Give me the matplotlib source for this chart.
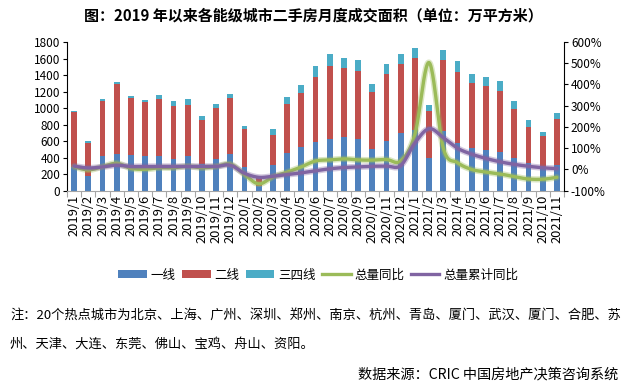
import matplotlib
matplotlib.use("Agg")
import matplotlib.pyplot as plt
import numpy as np
from matplotlib.lines import Line2D
from matplotlib.patches import Patch
from matplotlib.ticker import FuncFormatter, MultipleLocator

plt.rcParams["font.family"] = ["Noto Sans CJK SC", "DejaVu Sans"]

months = [f"{y}/{m}" for y in (2019, 2020, 2021) for m in range(1, 13)][:35]

tier1 = [290, 181, 423, 447, 431, 423, 423, 383, 423, 326, 383, 447, 286, 60, 310, 455, 528, 592,
         624, 648, 624, 503, 600, 697, 737, 399, 721, 576, 519, 495, 471, 399, 330, 290, 310]
tier2 = [664, 395, 660, 846, 692, 652, 684, 644, 612, 532, 620, 676, 459, 89, 362, 596, 652, 781,
         886, 838, 822, 693, 813, 837, 870, 563, 862, 862, 782, 774, 741, 588, 439, 374, 556]
tier3 = [12, 24, 24, 20, 25, 24, 49, 60, 72, 48, 48, 49, 40, 16, 73, 81, 97, 137,
         145, 121, 137, 97, 121, 121, 117, 73, 120, 129, 113, 104, 121, 96, 89, 49, 72]
yoy = [13, -2, 13, 29, 5, 1, 8, 8, 15, 8, 14, 25, -24, -68, -35, -13, 12, 40,
       45, 50, 45, 44, 47, 40, 165, 503, 100, 32, 0, -12, -21, -34, -45, -46, -37]
cum_yoy = [16, 7, 12, 20, 14, 14, 14, 14, 14, 14, 14, 20, -18, -37, -32, -24, -16, -6,
           3, 9, 12, 15, 16, 18, 125, 192, 150, 100, 72, 52, 36, 24, 15, 8, 4]

c_blue, c_red, c_cyan = "#4F81BD", "#C0504D", "#4BACC6"
c_green, c_purple = "#9BBB59", "#8064A2"


def smooth(y, n=24):
    """Catmull-Rom curve through the points, like Excel's smoothed line."""
    y = np.asarray(y, dtype=float)
    x = np.arange(len(y), dtype=float)
    px = np.concatenate([[x[0]], x, [x[-1]]])
    py = np.concatenate([[y[0]], y, [y[-1]]])
    xs, ys = [], []
    t = np.linspace(0, 1, n, endpoint=False)
    for i in range(1, len(px) - 2):
        for p, out in ((px, xs), (py, ys)):
            p0, p1, p2, p3 = p[i - 1], p[i], p[i + 1], p[i + 2]
            out.extend(0.5 * ((2 * p1) + (-p0 + p2) * t + (2 * p0 - 5 * p1 + 4 * p2 - p3) * t ** 2
                              + (-p0 + 3 * p1 - 3 * p2 + p3) * t ** 3))
    xs.append(x[-1])
    ys.append(y[-1])
    return np.array(xs), np.array(ys)


fig = plt.figure(figsize=(6.26, 3.9), dpi=100)
ax = fig.add_axes([67 / 626, 1 - 190.7 / 390, (564 - 67) / 626, (190.7 - 42) / 390])
x = np.arange(len(months))
w = 0.42
b2 = np.array(tier1)
b3 = b2 + np.array(tier2)
ax.bar(x, tier1, w, color=c_blue, zorder=2)
ax.bar(x, tier2, w, bottom=b2, color=c_red, zorder=2)
ax.bar(x, tier3, w, bottom=b3, color=c_cyan, zorder=2)

ax.set_xlim(-0.5, len(months) - 0.5)
ax.set_ylim(0, 1800)
ax.yaxis.set_major_locator(MultipleLocator(200))
ax.set_xticks(x)
ax.set_xticklabels(months, rotation=90, fontsize=9.3)
ax.set_xticks(np.arange(-0.5, len(months), 1), minor=True)
ax.tick_params(axis="x", which="major", length=0, pad=3)
ax.tick_params(axis="x", which="minor", length=4, color="#a6a6a6", width=0.8)
ax.tick_params(axis="y", length=3, width=0.8, labelsize=8.5, pad=2)
for s in ("top", "right"):
    ax.spines[s].set_visible(False)
ax.spines["bottom"].set_color("#a6a6a6")
ax.spines["left"].set_linewidth(0.8)

ax2 = ax.twinx()
ax2.set_ylim(-100, 600)
ax2.yaxis.set_major_locator(MultipleLocator(100))
ax2.yaxis.set_major_formatter(FuncFormatter(lambda v, _: f"{v:.0f}%"))
ax2.tick_params(axis="y", length=3, width=0.8, labelsize=8.5, pad=2)
for s in ("top", "left", "bottom"):
    ax2.spines[s].set_visible(False)
ax2.spines["right"].set_linewidth(0.8)

for vals, col in ((yoy, c_green), (cum_yoy, c_purple)):
    sx, sy = smooth(vals)
    ax2.plot(sx, sy, color=col, lw=4.5, alpha=0.35, solid_capstyle="round")
    ax2.plot(sx, sy, color=col, lw=2.4, solid_capstyle="round")

handles = [
    Patch(facecolor=c_blue, label="一线"),
    Patch(facecolor=c_red, label="二线"),
    Patch(facecolor=c_cyan, label="三四线"),
    Line2D([], [], color=c_green, lw=2.4, label="总量同比"),
    Line2D([], [], color=c_purple, lw=2.4, label="总量累计同比"),
]
fig.legend(handles=handles, loc="center", bbox_to_anchor=(318 / 626, 1 - 275 / 390), ncol=5,
           frameon=False, fontsize=9, handlelength=2.3, handleheight=0.55, handletextpad=0.3,
           columnspacing=0.5)

fig.text(0.5, 1 - 15 / 390, "图：2019 年以来各能级城市二手房月度成交面积（单位：万平方米）",
         ha="center", va="center", fontsize=10.8, fontweight="bold")
fig.text(10 / 626, 1 - 315 / 390,
         "注：20个热点城市为北京、上海、广州、深圳、郑州、南京、杭州、青岛、厦门、武汉、厦门、合肥、苏",
         ha="left", va="center", fontsize=9.5)
fig.text(10 / 626, 1 - 344 / 390, "州、天津、大连、东莞、佛山、宝鸡、舟山、资阳。",
         ha="left", va="center", fontsize=9.5)
fig.text(618 / 626, 1 - 374 / 390, "数据来源：CRIC 中国房地产决策咨询系统",
         ha="right", va="center", fontsize=10.2)

fig.savefig("out.png", dpi=100)
